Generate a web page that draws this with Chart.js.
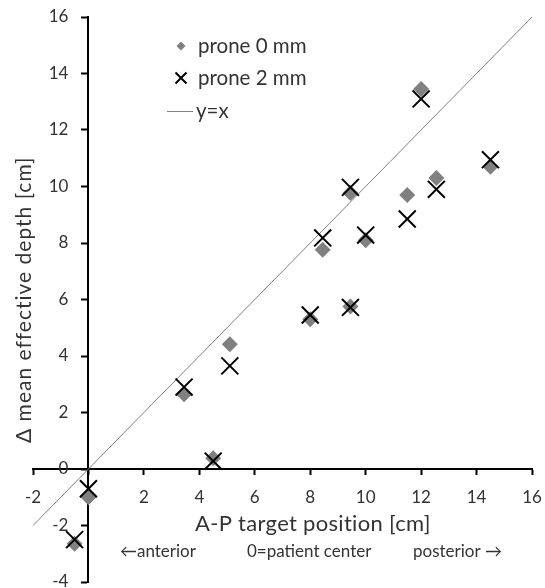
<!DOCTYPE html>
<html>
<head>
<meta charset="utf-8">
<script src="https://cdn.jsdelivr.net/npm/chart.js@4/dist/chart.umd.min.js"></script>
<style>
  html, body { margin: 0; padding: 0; background: #fff; }
  #wrap { width: 545px; height: 588px; }
</style>
</head>
<body>
<div id="wrap"><canvas id="c" width="545" height="588"></canvas></div>
<script>
// A-P target position [cm]
const targetX = [-0.5, 0, 3.45, 4.5, 5.1, 8.0, 8.45, 9.45, 9.45, 10.0, 11.5, 12.0, 12.55, 14.5];
// Δ mean effective depth [cm]
const prone0 = [-2.65, -1.0, 2.65, 0.38, 4.42, 5.3, 7.76, 5.75, 9.77, 8.1, 9.7, 13.45, 10.3, 10.7];
const prone2 = [-2.5, -0.7, 2.9, 0.28, 3.65, 5.45, 8.18, 5.72, 9.97, 8.28, 8.85, 13.1, 9.9, 10.95];
const identityX = [-2, 16];
const seriesLabels = ['prone 0 mm', 'prone 2 mm', 'y=x'];
const xTitle = 'A-P target position [cm]';
const yTitle = 'Δ mean effective depth [cm]';
const notes = ['←anterior', '0=patient center', 'posterior →'];

const FONT = 'Lato, "DejaVu Sans", sans-serif';
const TXT = '#333333';

const toPts = (xs, ys) => xs.map((x, i) => ({x: x, y: ys[i]}));
const noPad = (s) => { s.paddingLeft = 0; s.paddingRight = 0; s.paddingTop = 0; s.paddingBottom = 0; };

const overlay = {
  id: 'overlay',
  afterDraw(chart) {
    const ctx = chart.ctx;
    const xs = chart.scales.x, ys = chart.scales.y;
    ctx.save();
    ctx.fillStyle = TXT;
    ctx.textBaseline = 'middle';
    // y tick labels, beside the y axis (which sits at x = 0)
    ctx.font = '17px ' + FONT;
    ctx.textAlign = 'right';
    const axisX = xs.getPixelForValue(0);
    ys.ticks.forEach(t => {
      ctx.fillText(String(t.value), axisX - 20, ys.getPixelForValue(t.value));
    });
    // x title
    ctx.font = '22px ' + FONT;
    ctx.textAlign = 'left';
    ctx.letterSpacing = '0.3px';
    ctx.fillText(xTitle, 195, 524);
    // y title
    ctx.font = '21px ' + FONT;
    ctx.letterSpacing = '1px';
    ctx.save();
    ctx.translate(24, 443);
    ctx.rotate(-Math.PI / 2);
    ctx.fillText(yTitle, 0, 0);
    ctx.restore();
    ctx.letterSpacing = '0px';
    // notes
    ctx.font = '17px ' + FONT;
    ctx.textAlign = 'left';
    ctx.fillText(notes[0], 120, 552);
    ctx.fillText(notes[1], 247, 552);
    ctx.fillText(notes[2], 413, 552);
    // legend
    const ds = chart.data.datasets;
    ctx.font = '20.5px ' + FONT;
    const rows = [46, 78, 111];
    ctx.fillStyle = ds[0].backgroundColor;
    ctx.beginPath();
    ctx.moveTo(181, rows[0] - 4.5); ctx.lineTo(185.5, rows[0]);
    ctx.lineTo(181, rows[0] + 4.5); ctx.lineTo(176.5, rows[0]);
    ctx.closePath(); ctx.fill();
    ctx.strokeStyle = ds[1].borderColor;
    ctx.lineWidth = 2;
    ctx.beginPath();
    ctx.moveTo(175.5, rows[1] - 5.5); ctx.lineTo(186.5, rows[1] + 5.5);
    ctx.moveTo(186.5, rows[1] - 5.5); ctx.lineTo(175.5, rows[1] + 5.5);
    ctx.stroke();
    ctx.strokeStyle = ds[2].borderColor;
    ctx.lineWidth = 1;
    ctx.beginPath();
    ctx.moveTo(167, rows[2] + 0.5); ctx.lineTo(193, rows[2] + 0.5);
    ctx.stroke();
    ctx.fillStyle = TXT;
    ctx.fillText(ds[0].label, 198, rows[0]);
    ctx.fillText(ds[1].label, 198, rows[1]);
    ctx.fillText(ds[2].label, 196, rows[2]);
    ctx.restore();
  }
};

new Chart(document.getElementById('c'), {
  type: 'scatter',
  data: {
    datasets: [
      {
        label: seriesLabels[0],
        data: toPts(targetX, prone0),
        pointStyle: 'rectRot',
        pointRadius: 8,
        backgroundColor: '#808080',
        borderColor: '#808080',
        borderWidth: 0,
        order: 1,
        clip: false
      },
      {
        label: seriesLabels[1],
        data: toPts(targetX, prone2),
        pointStyle: 'crossRot',
        pointRadius: 12,
        backgroundColor: '#000000',
        borderColor: '#000000',
        borderWidth: 2,
        order: 0,
        clip: false
      },
      {
        label: seriesLabels[2],
        data: toPts(identityX, identityX),
        showLine: true,
        pointRadius: 0,
        borderColor: '#808080',
        borderWidth: 1,
        order: 2,
        clip: false
      }
    ]
  },
  options: {
    responsive: false,
    animation: false,
    events: [],
    layout: { autoPadding: false, padding: { left: 33, right: 13, top: 17, bottom: 6 } },
    plugins: { legend: { display: false }, tooltip: { enabled: false } },
    scales: {
      x: {
        type: 'linear',
        position: { y: 0 },
        min: -2, max: 16,
        ticks: { stepSize: 2, font: { family: FONT, size: 17 }, color: TXT, padding: 13 },
        grid: { drawOnChartArea: false, drawTicks: true, tickLength: 5, tickWidth: 2, tickColor: '#000', color: '#000' },
        border: { display: true, color: '#000', width: 2 },
        afterFit: noPad
      },
      y: {
        type: 'linear',
        position: { x: 0 },
        min: -4, max: 16,
        ticks: { stepSize: 2, display: false },
        grid: { drawOnChartArea: false, drawTicks: true, tickLength: 6, tickWidth: 2, tickColor: '#000', color: '#000' },
        border: { display: true, color: '#000', width: 2 },
        afterFit: noPad
      }
    }
  },
  plugins: [overlay]
});
</script>
</body>
</html>
